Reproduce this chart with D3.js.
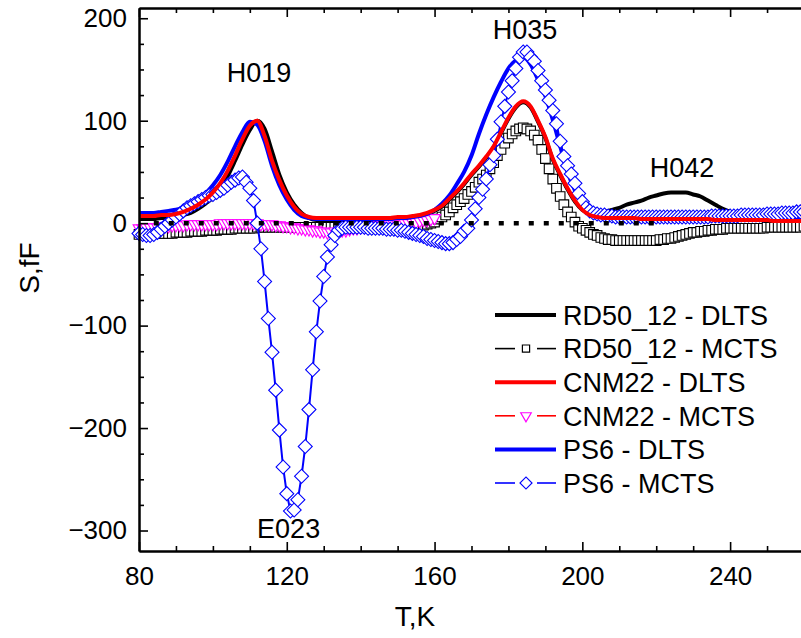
<!DOCTYPE html>
<html>
<head>
<meta charset="utf-8">
<script src="https://cdn.jsdelivr.net/npm/d3@7"></script>
<style>
  body { margin: 0; background: #fff; }
  svg { display: block; font-family: "Liberation Sans", Arial, sans-serif; }
</style>
</head>
<body>
<div id="chart"></div>
<script>
// Temperature grids (K)
var dltsStart = 80, dltsStep = 2;
var mctsStart = 80, mctsStep = 1;

// DLTS spectra, 80..260 K every 2 K (fF)
var rdDLTS = [4,4,4,5,5,6,8,10,14,19,
  25,34,46,61,77,91,100,92,70,47,
  30,18,10,5,3,3,3,3,3,3,
  3,3,3,3,3,3,4,5,7,9,
  12,16,23,30,38,47,55,64,74,88,
  102,113,118,113,99,83,62,47,33,21,
  13,10,10,11,13,15,18,20,22,25,
  27,29,30,30,30,28,26,22,18,14,
  11,9,8,7,7,7,7,7,7,7,7];
var cnDLTS = [7,7,7,8,8,9,11,14,18,23,
  30,39,51,66,82,95,100,85,61,42,
  27,16,9,6,5,5,5,5,5,5,
  5,5,5,5,5,6,6,7,8,10,
  13,17,24,31,39,48,56,65,75,89,
  103,114,119,114,100,84,63,48,34,22,
  13,8,6,5,5,5,5,5,4,4,
  4,4,4,4,4,4,4,4,3,3,
  3,3,3,3,3,3,2,2,2,2,2];
var psDLTS = [10,10,10,11,12,13,15,18,23,29,
  37,47,60,75,89,99,96,80,56,37,
  23,13,7,5,4,4,4,4,4,4,
  4,4,4,4,4,5,5,6,7,9,
  13,19,27,38,50,66,87,106,123,138,
  151,159,162,155,140,124,101,75,50,32,
  20,13,8,6,5,5,5,5,5,5,
  5,5,5,5,5,5,5,5,5,5,
  5,5,5,5,5,5,5,5,5,5,5];

// MCTS spectra, every 1 K (fF)
var rdMCTS = [-11,-11,-11,-11,-10,-10,-10,-10,-10,-10,
  -9,-9,-9,-9,-8,-8,-8,-8,-7,-7,
  -7,-7,-6,-6,-6,-6,-5,-5,-5,-5,
  -5,-5,-4,-4,-4,-4,-4,-4,-4,-4,
  -4,-4,-4,-4,-4,-4,-4,-4,-4,-4,
  -4,-4,-4,-4,-4,-4,-4,-4,-4,-4,
  -4,-4,-4,-4,-4,-4,-4,-4,-4,-4,
  -4,-4,-4,-4,-4,-3,-3,-2,-1,0,
  1,4,6,8,11,15,18,21,24,28,
  31,35,40,43,47,53,59,66,72,78,
  83,87,90,92,93,92,90,86,81,72,
  63,53,43,34,26,18,11,6,1,-3,
  -5,-7,-9,-11,-12,-14,-15,-16,-16,-17,
  -17,-17,-17,-17,-17,-17,-17,-17,-17,-17,
  -17,-16,-16,-15,-15,-14,-13,-12,-11,-10,
  -9,-9,-8,-8,-7,-7,-6,-6,-6,-5,
  -5,-5,-5,-5,-5,-5,-5,-5,-5,-5,
  -4,-4,-4,-4,-4,-4,-4,-4,-4,-4,-3];
var cnMCTS = [-5,-5,-4,-4,-4,-4,-3,-3,-3,-2,
  -2,-2,-2,-1,-1,-1,-1,-1,-1,-1,
  -1,-1,0,0,0,0,0,0,0,0,
  0,0,0,-1,-1,-1,-1,-2,-2,-3,
  -3,-4,-4,-5,-5,-6,-6,-7,-7,-8,
  -8,-9,-9,-8,-8,-7,-7,-6,-5,-5,
  -4,-4,-3,-3,-3,-2,-2,-2,-1,-1,
  -1,-1,0,0,1,1,2,3,3,4,5];
var psMCTS = [-10,-11,-12,-12,-11,-9,-6,-3,0,3,
  6,9,12,15,17,19,21,23,25,27,
  28,30,32,34,37,40,42,44,45,40,
  34,22,0,-25,-57,-93,-126,-163,-202,-238,
  -264,-281,-280,-270,-247,-218,-182,-143,-106,-76,
  -52,-33,-21,-12,-7,-5,-4,-4,-4,-4,
  -4,-4,-5,-5,-5,-5,-5,-6,-6,-6,
  -7,-7,-8,-9,-10,-11,-12,-13,-15,-16,
  -17,-18,-19,-20,-20,-19,-16,-13,-8,-5,
  3,14,25,33,43,57,66,82,99,114,
  128,139,151,162,167,167,162,158,149,139,
  130,120,110,97,80,65,56,48,39,29,
  21,15,12,10,9,8,8,7,7,6,
  6,6,6,6,6,6,6,6,6,6,
  6,6,6,6,6,6,6,6,6,6,
  6,6,6,6,6,7,7,7,7,7,
  7,7,7,8,8,8,8,8,8,8,
  9,9,9,9,10,10,10,10,11,11,11];

// zero reference line span (K)
var zeroSpan = [84, 221];

// axis ticks
var xTicks = [80, 120, 160, 200, 240];
var xMinor = [90, 100, 110, 130, 140, 150, 170, 180, 190, 210, 220, 230, 250, 260];
var yTicks = [-300, -200, -100, 0, 100, 200];
var yMinor = [-275, -250, -225, -175, -150, -125, -75, -50, -25, 25, 50, 75, 125, 150, 175];

// peak labels
var peakNames = ["H019", "H035", "H042", "E023"];
var peakT = [112.5, 184.5, 227, 120.5];
var peakS = [138, 180, 45, -307];

var legendNames = ["RD50_12 - DLTS", "RD50_12 - MCTS", "CNM22 - DLTS",
                   "CNM22 - MCTS", "PS6 - DLTS", "PS6 - MCTS"];

function toPoints(vals, start, step) {
  return vals.map(function(v, i) { return [start + i * step, v]; });
}

var width = 801, height = 638;
var svg = d3.select("#chart").append("svg")
  .attr("width", width).attr("height", height);

var x = d3.scaleLinear().domain([80, 260]).range([139, 804]);
var y = d3.scaleLinear().domain([-320, 210]).range([551, 8]);

var line = d3.line()
  .x(function(d) { return x(d[0]); })
  .y(function(d) { return y(d[1]); })
  .curve(d3.curveMonotoneX);
var rawLine = d3.line()
  .x(function(d) { return x(d[0]); })
  .y(function(d) { return y(d[1]); });

var plot = svg.append("g");

function drawDLTS(vals, color) {
  plot.append("path")
    .datum(toPoints(vals, dltsStart, dltsStep))
    .attr("d", line)
    .attr("fill", "none")
    .attr("stroke", color)
    .attr("stroke-width", 4)
    .attr("stroke-linejoin", "round");
}

function drawMCTS(vals, lineColor, lineWidth, markColor, symbol, size, rotate) {
  var pts = toPoints(vals, mctsStart, mctsStep);
  plot.append("path")
    .datum(pts)
    .attr("d", rawLine)
    .attr("fill", "none")
    .attr("stroke", lineColor)
    .attr("stroke-width", lineWidth);
  plot.append("g").selectAll("path")
    .data(pts)
    .enter().append("path")
    .attr("d", d3.symbol().type(symbol).size(size))
    .attr("transform", function(d) {
      return "translate(" + x(d[0]) + "," + y(d[1]) + ") rotate(" + rotate + ")";
    })
    .attr("fill", "#fff")
    .attr("stroke", markColor)
    .attr("stroke-width", 1.1);
}

drawDLTS(rdDLTS, "#000");
drawMCTS(rdMCTS, "#000", 1, "#000", d3.symbolSquare, 92, 0);
drawMCTS(cnMCTS, "#ff0000", 1, "#ff00ff", d3.symbolTriangle, 60, 180);
drawDLTS(psDLTS, "#0000ff");
drawMCTS(psMCTS, "#0000ff", 2, "#0000ff", d3.symbolSquare, 98, 45);

// zero reference
plot.append("path")
  .datum(zeroSpan.map(function(t) { return [t, 0]; }))
  .attr("d", rawLine)
  .attr("stroke", "#000")
  .attr("stroke-width", 4.5)
  .attr("stroke-dasharray", "5,10");

drawDLTS(cnDLTS, "#ff0000");

// axes
function styleAxis(g) {
  g.select(".domain").attr("stroke", "#000").attr("stroke-width", 2);
  g.selectAll(".tick line").attr("stroke", "#000").attr("stroke-width", 1.6);
  g.selectAll("text").attr("font-size", 26).attr("fill", "#000")
    .attr("font-family", "Liberation Sans, Arial, sans-serif");
}

svg.append("g").attr("transform", "translate(0,551)")
  .call(d3.axisBottom(x).tickValues(xTicks).tickSizeInner(-9).tickSizeOuter(0).tickPadding(16))
  .call(styleAxis);
svg.append("g").attr("transform", "translate(0,551)")
  .call(d3.axisBottom(x).tickValues(xMinor).tickSizeInner(-5).tickSizeOuter(0).tickFormat(""))
  .call(styleAxis);
svg.append("g").attr("transform", "translate(0,8)")
  .call(d3.axisTop(x).tickValues(xTicks).tickSizeInner(-9).tickSizeOuter(0).tickFormat(""))
  .call(styleAxis);
svg.append("g").attr("transform", "translate(0,8)")
  .call(d3.axisTop(x).tickValues(xMinor).tickSizeInner(-5).tickSizeOuter(0).tickFormat(""))
  .call(styleAxis);
svg.append("g").attr("transform", "translate(139,0)")
  .call(d3.axisLeft(y).tickValues(yTicks).tickSizeInner(-9).tickSizeOuter(0).tickPadding(12))
  .call(styleAxis);
svg.append("g").attr("transform", "translate(139,0)")
  .call(d3.axisLeft(y).tickValues(yMinor).tickSizeInner(-5).tickSizeOuter(0).tickFormat(""))
  .call(styleAxis);

// axis titles
svg.append("text")
  .attr("transform", "translate(29,268) rotate(-90)")
  .attr("text-anchor", "middle")
  .attr("dy", "0.35em")
  .attr("font-size", 28)
  .text("S,fF");
svg.append("text")
  .attr("x", 415).attr("y", 626)
  .attr("text-anchor", "middle")
  .attr("font-size", 28)
  .text("T,K");

// peak labels
peakNames.forEach(function(name, i) {
  svg.append("text")
    .attr("x", x(peakT[i])).attr("y", y(peakS[i]))
    .attr("text-anchor", "middle")
    .attr("font-size", 27)
    .text(name);
});

// legend
var legend = svg.append("g");
var legY = d3.scaleLinear().domain([0, 5]).range([315, 483]);
var legStyles = [
  {color: "#000", width: 4, mark: null},
  {color: "#000", width: 1.6, mark: "#000", sym: d3.symbolSquare, size: 52, rot: 0},
  {color: "#ff0000", width: 4, mark: null},
  {color: "#ff0000", width: 1.6, mark: "#ff00ff", sym: d3.symbolTriangle, size: 48, rot: 180},
  {color: "#0000ff", width: 4, mark: null},
  {color: "#0000ff", width: 1.6, mark: "#0000ff", sym: d3.symbolSquare, size: 72, rot: 45}
];
legendNames.forEach(function(name, i) {
  var s = legStyles[i], cy = legY(i);
  if (s.mark) {
    legend.append("line").attr("x1", 495).attr("x2", 515).attr("y1", cy).attr("y2", cy)
      .attr("stroke", s.color).attr("stroke-width", s.width);
    legend.append("line").attr("x1", 537).attr("x2", 556).attr("y1", cy).attr("y2", cy)
      .attr("stroke", s.color).attr("stroke-width", s.width);
    legend.append("path")
      .attr("d", d3.symbol().type(s.sym).size(s.size))
      .attr("transform", "translate(526," + cy + ") rotate(" + s.rot + ")")
      .attr("fill", "#fff").attr("stroke", s.mark).attr("stroke-width", 1.2);
  } else {
    legend.append("line").attr("x1", 495).attr("x2", 556).attr("y1", cy).attr("y2", cy)
      .attr("stroke", s.color).attr("stroke-width", s.width);
  }
  legend.append("text")
    .attr("x", 563).attr("y", cy).attr("dy", "0.36em")
    .attr("font-size", 27)
    .text(name);
});
</script>
</body>
</html>
